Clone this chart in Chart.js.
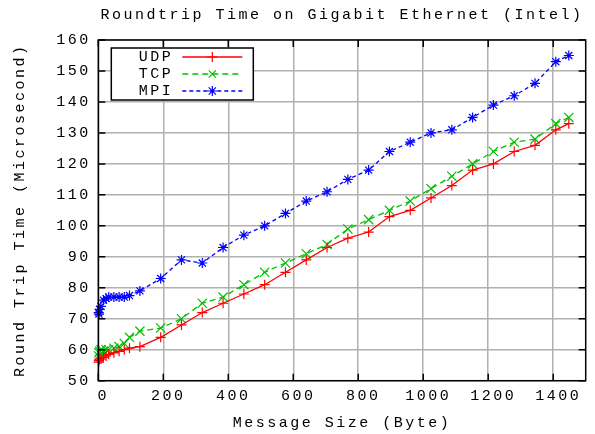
<!DOCTYPE html>
<html>
<head>
<meta charset="utf-8">
<script src="https://cdn.jsdelivr.net/npm/chart.js@4.4.0/dist/chart.umd.min.js"></script>
<style>
  html, body { margin: 0; padding: 0; background: #fff; }
  #chart { display: block; background: #fff; }
</style>
</head>
<body>
<canvas id="chart" width="595" height="434"></canvas>
<script>
// message sizes in bytes
const messageSizes = [1, 2, 4, 8, 16, 24, 32, 48, 64, 80, 96, 128,
    192, 256, 320, 384, 448, 512, 576, 640, 704, 768, 832, 896, 960,
    1024, 1088, 1152, 1216, 1280, 1344, 1408, 1448]

// round trip times (microseconds)
const udpTimes = [56, 56.5, 57, 57, 57.5, 58, 58.5, 59, 59.5, 60, 60.5, 61,
    64, 68, 72, 75, 78, 81, 85, 89, 93, 96, 98, 103, 105,
    109, 113, 118, 120, 124, 126, 131, 133]
const tcpTimes = [58, 59, 59.5, 60, 59.5, 60, 60, 60.5, 61, 62, 64, 66,
    67, 70, 75, 77, 81, 85, 88, 91, 94, 99, 102, 105, 108,
    112, 116, 120, 124, 127, 128, 133, 135]
const mpiTimes = [72, 71.5, 73, 74, 76, 76.5, 77, 77, 77, 77, 77.5, 79,
    83, 89, 88, 93, 97, 100, 104, 108, 111, 115, 118, 124, 127,
    130, 131, 135, 139, 142, 146, 153, 155]

const xTickValues = [0, 200, 400, 600, 800, 1000, 1200, 1400]
const yTickValues = [50, 60, 70, 80, 90, 100, 110, 120, 130, 140, 150, 160]

const monoFont = "'Liberation Mono', 'Courier New', monospace"
const letterGap = '2.5px'
const textFont = { family: monoFont, size: 15, weight: 'normal' }
const gridGray = '#b0b0b0'

const toPoints = (values) => messageSizes.map((size, i) => ({ x: size, y: values[i] }))

const series = [
    { label: 'UDP', values: udpTimes, color: '#ff0000', dash: [], marker: 'cross' },
    { label: 'TCP', values: tcpTimes, color: '#00c000', dash: [6, 4], marker: 'crossRot' },
    { label: 'MPI', values: mpiTimes, color: '#0000ff', dash: [4, 3], marker: 'star' }
]

const drawMarker = (ctx, style, x, y, r) => {
    const d = r * 0.72
    ctx.beginPath()
    if (style === 'cross' || style === 'star') {
        ctx.moveTo(x - r, y); ctx.lineTo(x + r, y)
        ctx.moveTo(x, y - r); ctx.lineTo(x, y + r)
    }
    if (style === 'crossRot' || style === 'star') {
        ctx.moveTo(x - d, y - d); ctx.lineTo(x + d, y + d)
        ctx.moveTo(x - d, y + d); ctx.lineTo(x + d, y - d)
    }
    ctx.stroke()
}

// border with inward ticks on all four sides and the boxed key, gnuplot style
const gnuplotFrame = {
    id: 'gnuplotFrame',
    beforeUpdate(chart) { chart.ctx.letterSpacing = letterGap },
    beforeDraw(chart) {
        const ctx = chart.ctx
        ctx.letterSpacing = letterGap
        ctx.save()
        ctx.fillStyle = '#fff'
        ctx.fillRect(0, 0, chart.width, chart.height)
        ctx.restore()
    },
    afterDatasetsDraw(chart) {
        const { ctx, chartArea: a, scales: { x, y } } = chart
        ctx.save()
        ctx.strokeStyle = '#000'
        ctx.lineWidth = 1.5
        ctx.beginPath()
        xTickValues.forEach(v => {
            const px = x.getPixelForValue(v)
            ctx.moveTo(px, a.bottom); ctx.lineTo(px, a.bottom - 7)
            ctx.moveTo(px, a.top); ctx.lineTo(px, a.top + 7)
        })
        yTickValues.forEach(v => {
            const py = y.getPixelForValue(v)
            ctx.moveTo(a.left, py); ctx.lineTo(a.left + 7, py)
            ctx.moveTo(a.right, py); ctx.lineTo(a.right - 7, py)
        })
        ctx.stroke()
        ctx.strokeRect(a.left, a.top, a.right - a.left, a.bottom - a.top)

        // key
        const kx = a.left + 13, ky = a.top + 8, kw = 142, kh = 52
        ctx.fillStyle = '#fff'
        ctx.fillRect(kx, ky, kw, kh)
        ctx.strokeRect(kx, ky, kw, kh)
        ctx.font = `${textFont.size}px ${monoFont}`
        ctx.textAlign = 'right'
        ctx.textBaseline = 'middle'
        series.forEach((s, i) => {
            const ry = ky + 9 + i * 17
            ctx.fillStyle = '#000'
            ctx.fillText(s.label, kx + 62, ry)
            ctx.strokeStyle = s.color
            ctx.lineWidth = 1.3
            ctx.setLineDash(s.dash)
            ctx.beginPath()
            ctx.moveTo(kx + 71, ry); ctx.lineTo(kx + 131, ry)
            ctx.stroke()
            ctx.setLineDash([])
            ctx.lineWidth = 1.2
            drawMarker(ctx, s.marker, kx + 101, ry, 5)
        })
        ctx.restore()
    }
}

new Chart(document.getElementById('chart'), {
    type: 'scatter',
    data: {
        datasets: series.map(s => ({
            label: s.label,
            data: toPoints(s.values),
            showLine: true,
            borderColor: s.color,
            backgroundColor: s.color,
            borderWidth: 1.3,
            borderDash: s.dash,
            pointStyle: s.marker,
            pointRadius: s.marker === 'crossRot' ? 6.5 : 5,
            pointBorderWidth: 1.2,
            pointBorderColor: s.color,
            clip: 10
        }))
    },
    options: {
        responsive: false,
        animation: false,
        layout: { padding: { left: 0, right: 9.3, top: 0, bottom: 0 } },
        plugins: {
            legend: { display: false },
            tooltip: { enabled: false },
            title: {
                display: true,
                fullSize: false,
                text: 'Roundtrip Time on Gigabit Ethernet (Intel)',
                color: '#000',
                font: textFont,
                padding: { top: 6.5, bottom: 15.5 }
            }
        },
        scales: {
            x: {
                type: 'linear',
                min: 0,
                max: 1500,
                afterBuildTicks: (scale) => { scale.ticks = xTickValues.map(v => ({ value: v })) },
                afterFit: (scale) => { scale.height = 53.3 },
                grid: { color: gridGray, lineWidth: 1.5, drawTicks: false },
                border: { display: false },
                ticks: {
                    color: '#000', font: textFont, padding: 6.5, labelOffset: 5,
                    autoSkip: false, maxRotation: 0,
                    callback: (value) => String(value)
                },
                title: { display: true, text: 'Message Size (Byte)', color: '#000', font: textFont, padding: { top: 0, bottom: 2 } }
            },
            y: {
                type: 'linear',
                min: 50,
                max: 160,
                afterBuildTicks: (scale) => { scale.ticks = yTickValues.map(v => ({ value: v })) },
                afterFit: (scale) => { scale.width = 98.3 },
                grid: { color: gridGray, lineWidth: 1.5, drawTicks: false },
                border: { display: false },
                ticks: { color: '#000', font: textFont, padding: 7.5, autoSkip: false, callback: (value) => String(value) },
                title: { display: true, text: 'Round Trip Time (Microsecond)', color: '#000', font: textFont, padding: { top: 11, bottom: 0 } }
            }
        }
    },
    plugins: [gnuplotFrame]
})
</script>
</body>
</html>
